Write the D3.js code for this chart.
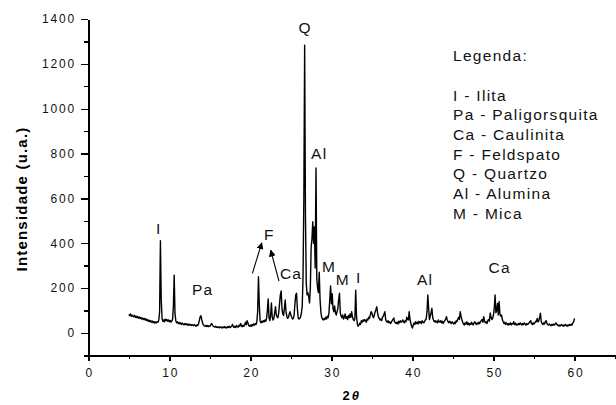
<!DOCTYPE html>
<html>
<head>
<meta charset="utf-8">
<script src="https://cdn.jsdelivr.net/npm/d3@7"></script>
<style>
    body { margin: 0; background: #fff; }
    svg { display: block; }
    .axis path, .axis line { stroke: #000; stroke-width: 1.4px; shape-rendering: crispEdges; }
    .axis text { font-family: "Liberation Sans", Arial, sans-serif; font-size: 12px; letter-spacing: 1.8px; fill: #111; }
    .lbl { font-family: "Liberation Sans", Arial, sans-serif; font-size: 15.5px; letter-spacing: 1.3px; fill: #111; }
</style>
</head>
<body>
<div class="xrd-chart"></div>
<script>

// Diffractogram: one intensity reading every 0.1 degree, from 5 to 60 (2 theta)
var angleStart = 5;
var angleStep = 0.1;
var intensity = [
    82, 78, 85, 74, 80, 76, 72, 79, 70, 75,
    68, 73, 66, 71, 64, 69, 62, 67, 60, 65,
    58, 63, 55, 60, 52, 57, 50, 55, 48, 53,
    46, 51, 44, 49, 45, 50, 48, 58, 95, 411,
    150, 65, 52, 58, 50, 62, 55, 60, 52, 58,
    50, 56, 48, 54, 60, 120, 258, 85, 55, 45,
    50, 42, 47, 40, 45, 38, 44, 40, 36, 42,
    38, 41, 35, 40, 34, 39, 37, 33, 38, 35,
    32, 37, 34, 30, 36, 33, 40, 55, 72, 77,
    60, 45, 36, 32, 30, 34, 29, 33, 28, 32,
    30, 35, 42, 38, 31, 28, 26, 30, 25, 28,
    24, 27, 23, 28, 25, 22, 27, 24, 29, 23,
    26, 22, 28, 25, 30, 24, 27, 32, 38, 28,
    25, 30, 24, 33, 28, 26, 35, 30, 42, 32,
    28, 35, 30, 38, 48, 36, 55, 45, 33, 30,
    35, 30, 38, 32, 40, 35, 42, 38, 50, 95,
    251, 130, 55, 45, 52, 48, 55, 50, 58, 52,
    65, 100, 152, 70, 55, 80, 134, 70, 58, 65,
    90, 117, 80, 72, 68, 90, 130, 170, 187, 110,
    85, 78, 110, 147, 95, 75, 65, 70, 85, 95,
    80, 70, 62, 65, 80, 130, 170, 177, 110, 67,
    62, 65, 72, 90, 120, 250, 600, 1283, 520, 220,
    170, 180, 162, 134, 200, 380, 420, 496, 400, 473,
    290, 736, 240, 200, 180, 271, 150, 95, 70, 62,
    58, 65, 60, 70, 62, 75, 68, 90, 150, 210,
    130, 175, 110, 95, 120, 90, 80, 95, 110, 150,
    177, 90, 75, 68, 80, 62, 70, 85, 65, 72,
    60, 78, 68, 85, 70, 95, 72, 60, 55, 65,
    191, 75, 40, 30, 35, 45, 38, 55, 48, 58,
    52, 60, 55, 48, 62, 58, 70, 65, 80, 95,
    90, 75, 68, 80, 95, 105, 117, 90, 72, 65,
    58, 62, 55, 70, 75, 85, 95, 60, 50, 48,
    55, 45, 50, 42, 48, 55, 60, 67, 50, 45,
    42, 48, 40, 52, 45, 55, 48, 50, 58, 52,
    45, 55, 50, 70, 60, 58, 95, 60, 45, 30,
    22, 35, 45, 38, 50, 42, 48, 40, 52, 45,
    50, 42, 55, 48, 45, 52, 58, 62, 95, 169,
    110, 60, 75, 90, 110, 70, 58, 50, 55, 48,
    52, 45, 58, 50, 48, 55, 45, 52, 42, 50,
    55, 62, 73, 58, 50, 45, 52, 48, 42, 50,
    45, 40, 48, 42, 55, 50, 62, 70, 60, 95,
    75, 60, 48, 40, 36, 45, 40, 50, 38, 45,
    35, 42, 38, 48, 40, 36, 45, 50, 42, 38,
    45, 40, 48, 42, 50, 55, 60, 48, 73, 55,
    45, 50, 42, 55, 60, 52, 89, 70, 60, 65,
    80, 110, 169, 90, 100, 132, 80, 140, 85, 75,
    80, 60, 50, 42, 48, 38, 45, 40, 35, 42,
    38, 45, 36, 42, 40, 50, 38, 44, 35, 40,
    36, 42, 38, 45, 40, 35, 42, 38, 45, 40,
    35, 42, 38, 40, 45, 50, 55, 42, 38, 45,
    40, 45, 52, 50, 65, 50, 55, 70, 88, 50,
    42, 38, 45, 40, 50, 55, 42, 38, 35, 40,
    36, 32, 38, 34, 40, 35, 38, 45, 40, 35,
    32, 36, 30, 35, 38, 33, 30, 36, 32, 38,
    34, 30, 36, 32, 38, 34, 40, 35, 45, 50,
    65
];

// Axes
var xDomain = [0, 65];
var yDomain = [-100, 1400];
var xTicks = [0, 10, 20, 30, 40, 50, 60];
var xMinorTicks = [5, 15, 25, 35, 45, 55, 65];
var yTicks = [0, 200, 400, 600, 800, 1000, 1200, 1400];
var yMinorTicks = [-100, 100, 300, 500, 700, 900, 1100, 1300];
var xTitle = "2";
var xTitleSymbol = "\u03b8";
var yTitle = "Intensidade (u.a.)";

// Phase labels over the peaks (2 theta, intensity)
var peakNames = ["Q", "Al", "I", "Pa", "F", "Ca", "M", "M", "I", "Al", "Ca"];
var peakAngles = [26.69, 28.42, 8.6, 14.04, 22.27, 24.94, 29.63, 31.32, 33.3, 41.48, 50.7];
var peakLevels = [1364, 800, 468, 192, 441, 266, 295, 237, 246, 241, 293];

// Arrows pointing to the feldspar label (start and end, 2 theta / intensity)
var arrowFromAngle = [20.25, 23.53];
var arrowFromLevel = [266, 231];
var arrowToAngle = [21.41, 22.51];
var arrowToLevel = [402, 369];

// Legend
var legendTitle = "Legenda:";
var legendItems = ["I - Ilita", "Pa - Paligorsquita", "Ca - Caulinita", "F - Feldspato",
    "Q - Quartzo", "Al - Alumina", "M - Mica"];


var margin = { top: 19, right: 1, bottom: 49.6, left: 88.3 };
var width = 616 - margin.left - margin.right;
var height = 405 - margin.top - margin.bottom;

var svg = d3.select(".xrd-chart").append("svg")
    .attr("width", 616)
    .attr("height", 405);

var defs = svg.append("defs");
defs.append("marker")
    .attr("id", "arrowhead")
    .attr("viewBox", "0 0 10 10")
    .attr("refX", 9)
    .attr("refY", 5)
    .attr("markerWidth", 7)
    .attr("markerHeight", 7)
    .attr("markerUnits", "userSpaceOnUse")
    .attr("orient", "auto")
    .append("path")
    .attr("d", "M0,0 L10,5 L0,10 Z")
    .attr("fill", "#000");

var g = svg.append("g")
    .attr("transform", "translate(" + margin.left + "," + margin.top + ")");

var x = d3.scaleLinear().domain(xDomain).range([0, width]);
var y = d3.scaleLinear().domain(yDomain).range([height, 0]);

// minor ticks first, majors drawn on top
g.append("g")
    .attr("class", "axis")
    .attr("transform", "translate(0," + height + ")")
    .call(d3.axisBottom(x).tickValues(xMinorTicks).tickSize(3.7).tickFormat(""))
    .select(".domain").remove();

g.append("g")
    .attr("class", "axis")
    .call(d3.axisLeft(y).tickValues(yMinorTicks).tickSize(4).tickFormat(""))
    .select(".domain").remove();

var xAxis = d3.axisBottom(x)
    .tickValues(xTicks)
    .tickFormat(d3.format("d"))
    .tickSizeInner(6)
    .tickSizeOuter(0)
    .tickPadding(7.5);

g.append("g")
    .attr("class", "axis x-axis")
    .attr("transform", "translate(0," + height + ")")
    .call(xAxis)
    .selectAll("text")
    .attr("dx", "0.9px");

var yAxis = d3.axisLeft(y)
    .tickValues(yTicks)
    .tickFormat(d3.format("d"))
    .tickSizeInner(7)
    .tickSizeOuter(0)
    .tickPadding(5.4);

g.append("g")
    .attr("class", "axis y-axis")
    .call(yAxis);

// the pattern itself
var line = d3.line()
    .x(function(d, i) { return x(angleStart + i * angleStep); })
    .y(function(d) { return y(d); });

g.append("path")
    .datum(intensity)
    .attr("fill", "none")
    .attr("stroke", "#000")
    .attr("stroke-width", 1.4)
    .attr("stroke-linejoin", "round")
    .attr("d", line);

// peak labels
g.selectAll(".peak-label")
    .data(peakNames)
    .enter()
    .append("text")
    .attr("class", "lbl peak-label")
    .attr("x", function(d, i) { return x(peakAngles[i]) + 0.7; })
    .attr("y", function(d, i) { return y(peakLevels[i]); })
    .attr("dy", "0.36em")
    .attr("text-anchor", "middle")
    .text(function(d) { return d; });

// arrows
g.selectAll(".arrow")
    .data(arrowFromAngle)
    .enter()
    .append("line")
    .attr("class", "arrow")
    .attr("x1", function(d) { return x(d); })
    .attr("y1", function(d, i) { return y(arrowFromLevel[i]); })
    .attr("x2", function(d, i) { return x(arrowToAngle[i]); })
    .attr("y2", function(d, i) { return y(arrowToLevel[i]); })
    .attr("stroke", "#000")
    .attr("stroke-width", 1.1)
    .attr("marker-end", "url(#arrowhead)");

// legend block
var legend = svg.append("g")
    .attr("transform", "translate(453,0)");

legend.append("text")
    .attr("class", "lbl")
    .attr("x", 0)
    .attr("y", 55)
    .attr("dy", "0.36em")
    .text(legendTitle);

legend.selectAll(".legend-item")
    .data(legendItems)
    .enter()
    .append("text")
    .attr("class", "lbl legend-item")
    .attr("x", 0)
    .attr("y", function(d, i) { return 95 + i * 19.7; })
    .attr("dy", "0.36em")
    .text(function(d) { return d; });

// axis titles
var xt = svg.append("text")
    .attr("x", margin.left + width / 2)
    .attr("y", 400)
    .attr("text-anchor", "middle")
    .style("font-family", "'Liberation Sans', Arial, sans-serif")
    .style("font-size", "13px")
    .style("font-weight", "bold")
    .style("letter-spacing", "2px");
xt.append("tspan").text(xTitle);
xt.append("tspan").style("font-style", "italic").text(xTitleSymbol);

svg.append("text")
    .attr("transform", "translate(27,199) rotate(-90)")
    .attr("text-anchor", "middle")
    .style("font-family", "'Liberation Sans', Arial, sans-serif")
    .style("font-size", "15px")
    .style("font-weight", "bold")
    .style("letter-spacing", "1.2px")
    .text(yTitle);

</script>
</body>
</html>
